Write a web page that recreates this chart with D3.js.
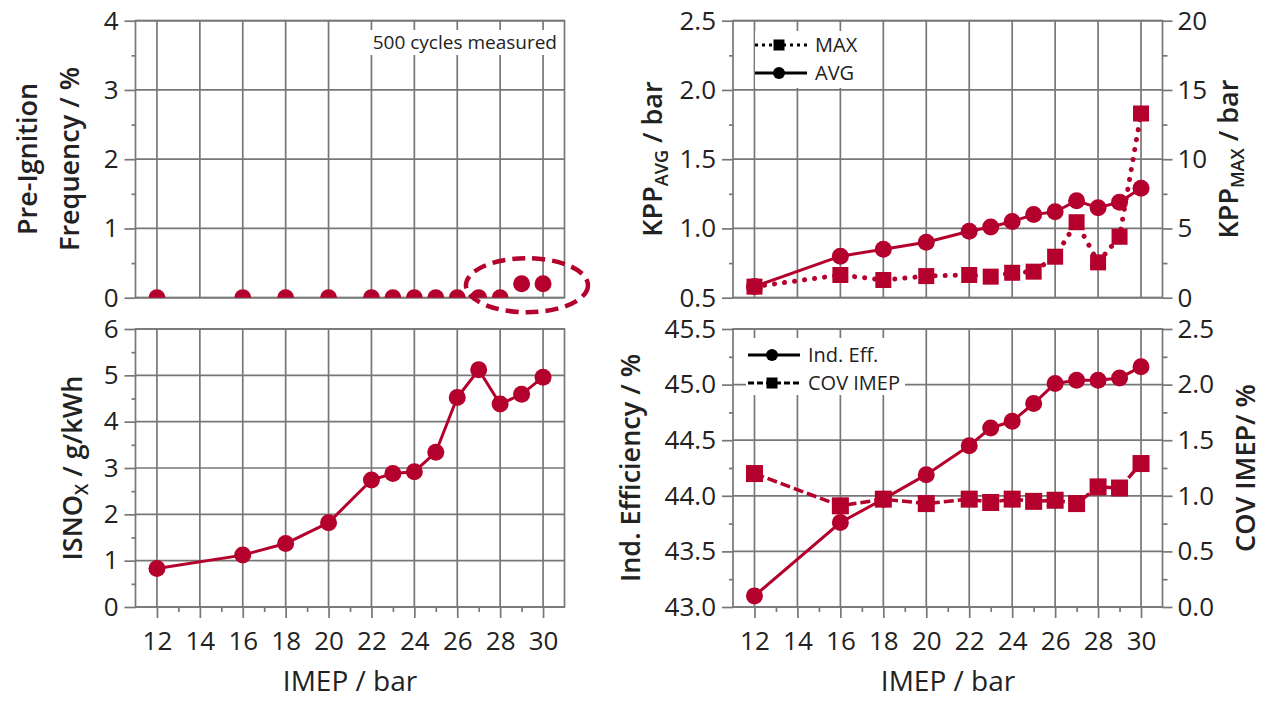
<!DOCTYPE html>
<html>
<head>
<meta charset="utf-8">
<script src="https://cdn.jsdelivr.net/npm/d3@7"></script>
<style>
  html, body { margin: 0; padding: 0; background: #fff; }
  svg { display: block; font-family: "Open Sans", sans-serif; }
</style>
</head>
<body>
<svg id="chart" width="1264" height="701"></svg>
<script>
"use strict";

// operating points (IMEP / bar)
var imep = [12, 16, 18, 20, 22, 23, 24, 25, 26, 27, 28, 29, 30];

var preIgnition = [0, 0, 0, 0, 0, 0, 0, 0, 0, 0, 0, 0.2, 0.2];
var isnox = [0.83, 1.12, 1.37, 1.82, 2.74, 2.88, 2.92, 3.34, 4.52, 5.12, 4.38, 4.59, 4.96];
var kppAvg = [0.58, 0.80, 0.85, 0.90, 0.98, 1.01, 1.05, 1.10, 1.12, 1.20, 1.15, 1.19, 1.29];
var kppMax = [0.8, 1.64, 1.28, 1.56, 1.64, 1.52, 1.8, 1.88, 2.96, 5.45, 2.55, 4.4, 13.3];
var indEff = [43.10, 43.76, 43.97, 44.19, 44.45, 44.61, 44.67, 44.83, 45.01, 45.04, 45.04, 45.06, 45.16];
var covImep = [1.2, 0.91, 0.97, 0.93, 0.97, 0.94, 0.97, 0.95, 0.96, 0.93, 1.08, 1.07, 1.29];

var xTicks = [12, 14, 16, 18, 20, 22, 24, 26, 28, 30];
var xMinorTicks = [13, 15, 17, 19, 21, 23, 25, 27, 29];

var RED = "#b4002c";
var GRID = "#777";
var TEXT = "#222";

var svg = d3.select("#chart");
svg.append("rect").attr("width", 1264).attr("height", 701).attr("fill", "#fff");

var leftX = d3.scaleLinear().domain([11, 31]).range([135.5, 564.5]);
var rightX = d3.scaleLinear().domain([11, 31]).range([733, 1162.5]);
var topRange = [297.7, 20.7];
var bottomRange = [607, 329];

function range(a, b, step) {
    var out = [];
    for (var v = a; v <= b + 1e-9; v += step) out.push(+v.toFixed(4));
    return out;
}

function styleAxis(g, size) {
    g.select(".domain").remove();
    g.selectAll("line").attr("stroke", GRID).attr("stroke-width", 1.7);
    g.selectAll("text").attr("font-size", size || 26).attr("fill", TEXT)
        .attr("font-family", "'Open Sans', sans-serif");
}

var clipId = 0;

function drawPanel(opt) {
    var x = opt.x, y = opt.y;
    var x0 = x.range()[0], x1 = x.range()[1];
    var yb = y.range()[0], yt = y.range()[1];
    var g = svg.append("g");

    g.selectAll(".vgrid").data(xTicks).enter().append("line")
        .attr("x1", function (d) { return x(d); }).attr("x2", function (d) { return x(d); })
        .attr("y1", yt).attr("y2", yb)
        .attr("stroke", GRID).attr("stroke-width", 1.7);
    g.selectAll(".hgrid").data(opt.yTicks).enter().append("line")
        .attr("x1", x0).attr("x2", x1)
        .attr("y1", function (d) { return y(d); }).attr("y2", function (d) { return y(d); })
        .attr("stroke", GRID).attr("stroke-width", 1.7);
    g.append("rect").attr("x", x0).attr("y", yt).attr("width", x1 - x0).attr("height", yb - yt)
        .attr("fill", "none").attr("stroke", GRID).attr("stroke-width", 1.7);

    g.append("g").attr("transform", "translate(" + x0 + ",0)")
        .call(d3.axisLeft(y).tickValues(opt.yTicks).tickSize(11).tickPadding(6).tickFormat(opt.yFormat))
        .call(styleAxis);
    g.append("g").attr("transform", "translate(" + x0 + ",0)")
        .call(d3.axisLeft(y).tickValues(opt.yMinor).tickSize(4).tickFormat(""))
        .call(styleAxis);

    if (opt.y2) {
        g.append("g").attr("transform", "translate(" + x1 + ",0)")
            .call(d3.axisRight(opt.y2).tickValues(opt.y2Ticks).tickSize(10).tickPadding(5).tickFormat(opt.y2Format))
            .call(styleAxis);
        g.append("g").attr("transform", "translate(" + x1 + ",0)")
            .call(d3.axisRight(opt.y2).tickValues(opt.y2Minor).tickSize(5).tickFormat(""))
            .call(styleAxis);
    }

    if (opt.xLabels) {
        g.append("g").attr("transform", "translate(0," + yb + ")")
            .call(d3.axisBottom(x).tickValues(xTicks).tickSize(11).tickPadding(14).tickFormat(d3.format("d")))
            .call(styleAxis);
        g.append("g").attr("transform", "translate(0," + yb + ")")
            .call(d3.axisBottom(x).tickValues(xMinorTicks).tickSize(5).tickFormat(""))
            .call(styleAxis);
    }

    clipId += 1;
    svg.append("clipPath").attr("id", "clip" + clipId).append("rect")
        .attr("x", x0).attr("y", yt).attr("width", x1 - x0).attr("height", yb - yt);
    return svg.append("g").attr("clip-path", "url(#clip" + clipId + ")");
}

function drawLine(g, x, y, values, dash, width) {
    var line = d3.line()
        .x(function (d, i) { return x(imep[i]); })
        .y(function (d) { return y(d); });
    g.append("path").datum(values).attr("d", line)
        .attr("fill", "none").attr("stroke", RED).attr("stroke-width", width || 3)
        .attr("stroke-dasharray", dash || null)
        .attr("stroke-linecap", dash === "0.1 10" ? "round" : "butt");
}

function drawCircles(g, x, y, values, r) {
    g.selectAll(null).data(values).enter().append("circle")
        .attr("cx", function (d, i) { return x(imep[i]); })
        .attr("cy", function (d) { return y(d); })
        .attr("r", r).attr("fill", RED);
}

function drawSquares(g, x, y, values, s) {
    g.selectAll(null).data(values).enter().append("rect")
        .attr("x", function (d, i) { return x(imep[i]) - s / 2; })
        .attr("y", function (d) { return y(d) - s / 2; })
        .attr("width", s).attr("height", s).attr("fill", RED);
}

function yTitle(x, y, parts, weight) {
    var t = svg.append("text")
        .attr("transform", "translate(" + x + "," + y + ") rotate(-90)")
        .attr("text-anchor", "middle").attr("font-size", 27)
        .attr("font-weight", weight || 600).attr("fill", TEXT);
    parts.forEach(function (p) {
        var s = t.append("tspan").text(p.text);
        if (p.sub) s.attr("font-size", 18).attr("dy", 6);
        if (p.back) s.attr("dy", -6);
    });
}

function xTitle(x, y, label) {
    svg.append("text").attr("x", x).attr("y", y).attr("text-anchor", "middle")
        .attr("font-size", 28).attr("fill", TEXT).text(label);
}

// ---- top left: pre-ignition frequency ----
var yPre = d3.scaleLinear().domain([0, 4]).range(topRange);
var gPre = drawPanel({
    x: leftX, y: yPre,
    yTicks: range(0, 4, 1), yMinor: range(0.5, 3.5, 1), yFormat: d3.format("d")
});
drawCircles(gPre, leftX, yPre, preIgnition, 8.5);

svg.append("rect").attr("x", 356).attr("y", 30).attr("width", 205).attr("height", 25).attr("fill", "#fff");
svg.append("text").attr("x", 557).attr("y", 49).attr("text-anchor", "end")
    .attr("font-size", 19).attr("fill", TEXT).text("500 cycles measured");

svg.append("ellipse")
    .attr("cx", leftX(29.25)).attr("cy", yPre(0.18)).attr("rx", 61).attr("ry", 27)
    .attr("fill", "none").attr("stroke", RED).attr("stroke-width", 4.5)
    .attr("stroke-dasharray", "13 7");

yTitle(37, 159, [{ text: "Pre-Ignition" }]);
yTitle(79, 159, [{ text: "Frequency / %" }]);

// ---- bottom left: ISNOx ----
var yNox = d3.scaleLinear().domain([0, 6]).range(bottomRange);
var gNox = drawPanel({
    x: leftX, y: yNox,
    yTicks: range(0, 6, 1), yMinor: range(0.5, 5.5, 1), yFormat: d3.format("d"),
    xLabels: true
});
drawLine(gNox, leftX, yNox, isnox, null, 3);
drawCircles(gNox, leftX, yNox, isnox, 8.5);

yTitle(82, 468, [{ text: "ISNO" }, { text: "X", sub: true }, { text: " / g/kWh", back: true }]);
xTitle(350, 691, "IMEP / bar");

// ---- top right: knock peak pressure ----
var yAvg = d3.scaleLinear().domain([0.5, 2.5]).range(topRange);
var yMax = d3.scaleLinear().domain([0, 20]).range(topRange);
var gKpp = drawPanel({
    x: rightX, y: yAvg,
    yTicks: range(0.5, 2.5, 0.5), yMinor: range(0.75, 2.25, 0.5), yFormat: d3.format(".1f"),
    y2: yMax, y2Ticks: range(0, 20, 5), y2Minor: range(2.5, 17.5, 5), y2Format: d3.format("d")
});
drawLine(gKpp, rightX, yMax, kppMax, "0.1 10", 5);
drawLine(gKpp, rightX, yAvg, kppAvg, null, 3);
drawSquares(gKpp, rightX, yMax, kppMax, 16);
drawCircles(gKpp, rightX, yAvg, kppAvg, 8.5);

yTitle(662, 159, [{ text: "KPP" }, { text: "AVG", sub: true }, { text: " / bar", back: true }]);
yTitle(1238, 159, [{ text: "KPP" }, { text: "MAX", sub: true }, { text: " / bar", back: true }]);

// ---- bottom right: efficiency and COV ----
var yEff = d3.scaleLinear().domain([43, 45.5]).range(bottomRange);
var yCov = d3.scaleLinear().domain([0, 2.5]).range(bottomRange);
var gEff = drawPanel({
    x: rightX, y: yEff,
    yTicks: range(43, 45.5, 0.5), yMinor: range(43.25, 45.25, 0.5), yFormat: d3.format(".1f"),
    y2: yCov, y2Ticks: range(0, 2.5, 0.5), y2Minor: range(0.25, 2.25, 0.5), y2Format: d3.format(".1f"),
    xLabels: true
});
drawLine(gEff, rightX, yCov, covImep, "10 4", 3.5);
drawLine(gEff, rightX, yEff, indEff, null, 3);
drawSquares(gEff, rightX, yCov, covImep, 17);
drawCircles(gEff, rightX, yEff, indEff, 8.5);

yTitle(640, 468, [{ text: "Ind. Efficiency / %" }]);
yTitle(1255, 468, [{ text: "COV IMEP/ %" }]);
xTitle(948, 691, "IMEP / bar");

// ---- legends ----
function legend(box, items) {
    svg.append("rect").attr("x", box[0]).attr("y", box[1]).attr("width", box[2]).attr("height", box[3])
        .attr("fill", "#fff");
    items.forEach(function (it) {
        svg.append("line").attr("x1", it.x).attr("x2", it.x + 52).attr("y1", it.y).attr("y2", it.y)
            .attr("stroke", "#000").attr("stroke-width", 3).attr("stroke-dasharray", it.dash || null);
        if (it.shape === "circle") {
            svg.append("circle").attr("cx", it.x + 24).attr("cy", it.y).attr("r", 6).attr("fill", "#000");
        } else {
            svg.append("rect").attr("x", it.x + 18.5).attr("y", it.y - 5.5).attr("width", 11).attr("height", 11)
                .attr("fill", "#000");
        }
        svg.append("text").attr("x", it.x + 60).attr("y", it.y).attr("dy", "0.35em")
            .attr("font-size", 20).attr("fill", TEXT).text(it.label);
    });
}

legend([755, 31, 107, 57], [
    { x: 755, y: 45, label: "MAX", shape: "square", dash: "3 4" },
    { x: 755, y: 73, label: "AVG", shape: "circle" }
]);
legend([746, 338, 159, 57], [
    { x: 748, y: 355, label: "Ind. Eff.", shape: "circle" },
    { x: 748, y: 383, label: "COV IMEP", shape: "square", dash: "6 3" }
]);
</script>
</body>
</html>
